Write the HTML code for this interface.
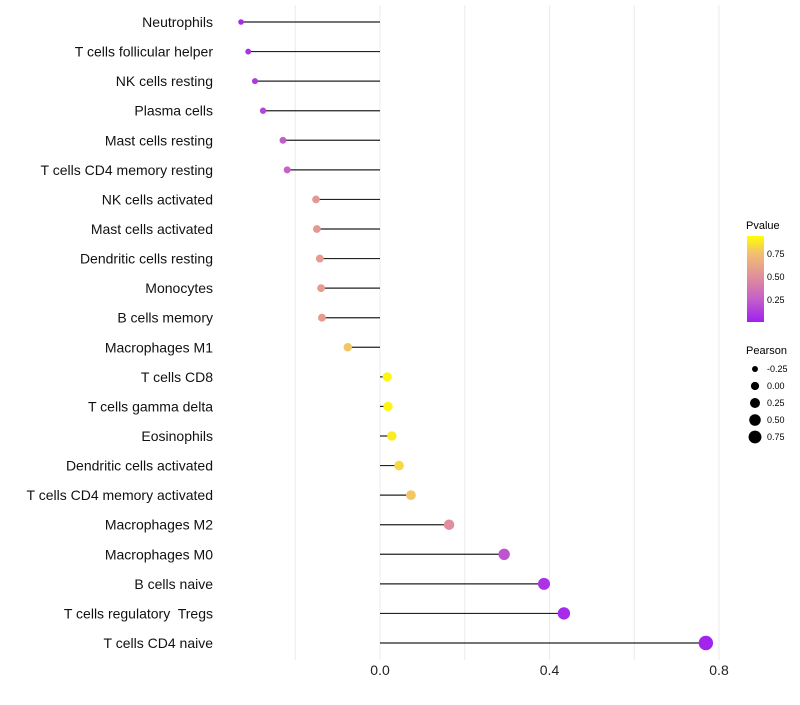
<!DOCTYPE html>
<html><head><meta charset="utf-8"><style>
body{margin:0;background:#fff;font-family:"Liberation Sans",sans-serif}
text{white-space:pre}
</style></head><body>
<svg id="chart" width="800" height="700" xmlns="http://www.w3.org/2000/svg">
<defs>
<linearGradient id="pg" x1="0" y1="1" x2="0" y2="0">
<stop offset="0" stop-color="#A020F0"/><stop offset="0.27" stop-color="#C560C8"/>
<stop offset="0.53" stop-color="#E0909A"/><stop offset="0.8" stop-color="#F2C070"/><stop offset="1" stop-color="#FFFF00"/>
</linearGradient>
</defs>
<g id="grid"></g><g id="marks"></g><g id="labels"></g><g id="xaxis"></g>
<g>
<text x="746" y="229" font-size="11">Pvalue</text>
<rect x="747" y="236" width="17" height="86" fill="url(#pg)"/>
<text x="767" y="257" font-size="9">0.75</text><text x="767" y="280" font-size="9">0.50</text><text x="767" y="303" font-size="9">0.25</text>
</g>
<g id="sizeleg">
<text x="746" y="354" font-size="11">Pearson</text>
</g>
</svg>
<script>
const categories=["Neutrophils","T cells follicular helper","NK cells resting","Plasma cells","Mast cells resting","T cells CD4 memory resting","NK cells activated","Mast cells activated","Dendritic cells resting","Monocytes","B cells memory","Macrophages M1","T cells CD8","T cells gamma delta","Eosinophils","Dendritic cells activated","T cells CD4 memory activated","Macrophages M2","Macrophages M0","B cells naive","T cells regulatory  Tregs","T cells CD4 naive"];
const pearson=[-0.328,-0.311,-0.295,-0.276,-0.229,-0.219,-0.151,-0.149,-0.142,-0.139,-0.137,-0.076,0.017,0.019,0.028,0.045,0.073,0.163,0.293,0.387,0.434,0.769];
const pvalue=[0.05,0.08,0.1,0.15,0.25,0.28,0.58,0.58,0.6,0.6,0.6,0.82,0.97,0.97,0.94,0.88,0.82,0.52,0.22,0.08,0.05,0.02];
const xTicks=[0.0,0.4,0.8];
const gridTicks=[-0.2,0.2,0.6];
const sizeLegend=[-0.25,0.00,0.25,0.50,0.75];
const NS="http://www.w3.org/2000/svg";
const x=v=>380+v*423.75;
const y=i=>22+i*(621/21);
const r=v=>Math.sqrt(Math.max(2.5,21+40*v));
const stops=[[0,[160,32,240]],[0.27,[197,96,200]],[0.53,[224,144,154]],[0.8,[242,192,112]],[1,[255,255,0]]];
function col(p){for(let k=1;k<stops.length;k++){if(p<=stops[k][0]){const a=stops[k-1],b=stops[k],t=(p-a[0])/(b[0]-a[0]);return "rgb("+a[1].map((c,j)=>Math.round(c+(b[1][j]-c)*t)).join(",")+")";}}return "rgb(255,255,0)";}
function el(t,a,p){const e=document.createElementNS(NS,t);for(const k in a)e.setAttribute(k,a[k]);p.appendChild(e);return e;}
const G=document.getElementById("grid"),M=document.getElementById("marks"),L=document.getElementById("labels"),X=document.getElementById("xaxis"),S=document.getElementById("sizeleg");
gridTicks.concat(xTicks).forEach(t=>{const g=el("line",{x1:x(t),x2:x(t),y1:5,y2:660,stroke:"#ebebeb","stroke-width":1},G);

});
xTicks.forEach(t=>{const tx=el("text",{x:x(t),y:675,"font-size":14,"text-anchor":"middle",fill:"#222"},X);tx.textContent=t.toFixed(1);

});
categories.forEach((c,i)=>{
const ln=el("line",{x1:x(0),x2:x(pearson[i]),y1:y(i),y2:y(i),stroke:"#222","stroke-width":1.2},M);


const d=el("circle",{cx:x(pearson[i]),cy:y(i),r:r(pearson[i]),fill:col(pvalue[i])},M);


const t=el("text",{x:213,y:y(i)+5,"font-size":14,"text-anchor":"end",fill:"#111"},L);t.textContent=c;


});
sizeLegend.forEach((v,k)=>{const cy=369+k*17;
const d=el("circle",{cx:755,cy:cy,r:Math.min(6.5,r(v)*0.9),fill:"#000"},S);


const t=el("text",{x:767,y:cy+3,"font-size":9},S);t.textContent=v.toFixed(2);

});
</script>
</body></html>
